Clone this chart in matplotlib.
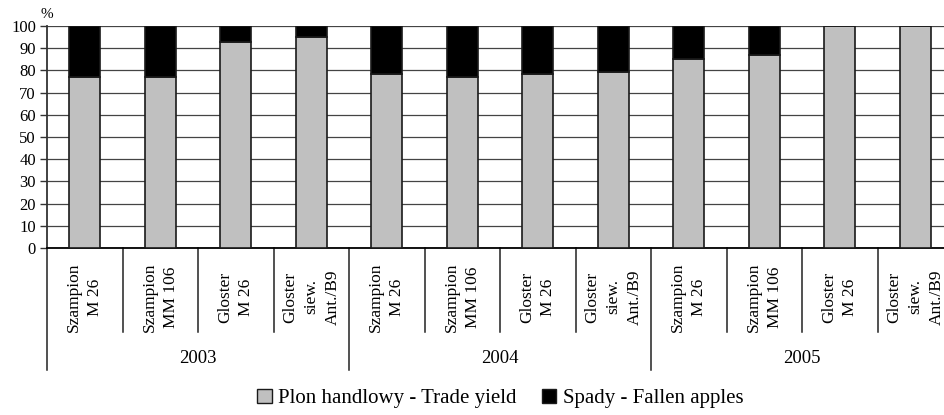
import matplotlib
matplotlib.use("Agg")
import matplotlib.pyplot as plt
from matplotlib.patches import Patch

plt.rcParams['font.family'] = ['Liberation Serif', 'DejaVu Serif']

# Data
years = ["2003", "2004", "2005"]
cultivars = ["Szampion\nM 26", "Szampion\nMM 106", "Gloster\nM 26", "Gloster\nsiew.\nAnt./B9"]
trade_yield = [77, 77, 93, 95, 78.5, 77, 78.5, 79.3, 85, 87, 100, 100]
fallen_apples = [100 - v for v in trade_yield]
y_ticks = [0, 10, 20, 30, 40, 50, 60, 70, 80, 90, 100]
legend_labels = ["Plon handlowy - Trade yield", "Spady - Fallen apples"]

W, H = 944, 415
fig = plt.figure(figsize=(W / 100, H / 100), dpi=100)

# plot area (pixel geometry); the last category runs past the right edge
x0, y_top, y_bot = 47, 26, 248
cat_w = 75.5
n = len(years) * len(cultivars)
ax = fig.add_axes([x0 / W, (H - y_bot) / H, n * cat_w / W, (y_bot - y_top) / H])

pos = [i + 0.5 for i in range(n)]
ax.bar(pos, trade_yield, width=0.41, color="#c0c0c0", edgecolor="#1a1a1a", linewidth=1.2, zorder=3)
ax.bar(pos, fallen_apples, bottom=trade_yield, width=0.41, color="black", edgecolor="#1a1a1a",
       linewidth=1.2, zorder=3)

ax.set_xlim(0, n)
ax.set_ylim(0, 100)
ax.set_yticks(y_ticks)
ax.set_yticklabels([str(v) for v in y_ticks], fontsize=12)
ax.yaxis.grid(True, color="#444444", linewidth=0.9, zorder=0)
ax.set_axisbelow(True)
ax.set_xticks([])
ax.tick_params(axis="y", length=5, width=1, color="#333333", pad=3)
for s in ("top", "right"):
    ax.spines[s].set_visible(False)
ax.spines["left"].set_color("#333333")
ax.spines["left"].set_linewidth(1.3)
ax.spines["bottom"].set_color("black")
ax.spines["bottom"].set_linewidth(1.3)

ax.text(0, 1.05, "%", transform=ax.transAxes, ha="center", va="center", fontsize=11)

# category axis: separators, labels and year groups
tr = ax.get_xaxis_transform()
ph = y_bot - y_top
cat_sep = -(332 - y_bot) / ph
grp_sep = -(370 - y_bot) / ph
for i in range(n + 1):
    low = grp_sep if i % len(cultivars) == 0 else cat_sep
    ax.plot([i, i], [0, low], transform=tr, color="#222222", linewidth=1.1, clip_on=False)

for i in range(n):
    ax.text(pos[i], -(297 - y_bot) / ph, cultivars[i % len(cultivars)], transform=tr,
            rotation=90, ha="center", va="center", multialignment="center",
            fontsize=12.5, linespacing=1.45)

for g, yr in enumerate(years):
    ax.text(g * len(cultivars) + len(cultivars) / 2, -(358 - y_bot) / ph, yr, transform=tr,
            ha="center", va="center", fontsize=13.5)

handles = [Patch(facecolor="#c0c0c0", edgecolor="#1a1a1a", linewidth=1.0),
           Patch(facecolor="black", edgecolor="#1a1a1a", linewidth=1.0)]
fig.legend(handles, legend_labels, loc="center", bbox_to_anchor=(0.53, 0.04), ncol=2,
           frameon=False, fontsize=15, handlelength=0.7, handleheight=0.7,
           handletextpad=0.3, columnspacing=1.2)

fig.savefig("out.png", dpi=100)
